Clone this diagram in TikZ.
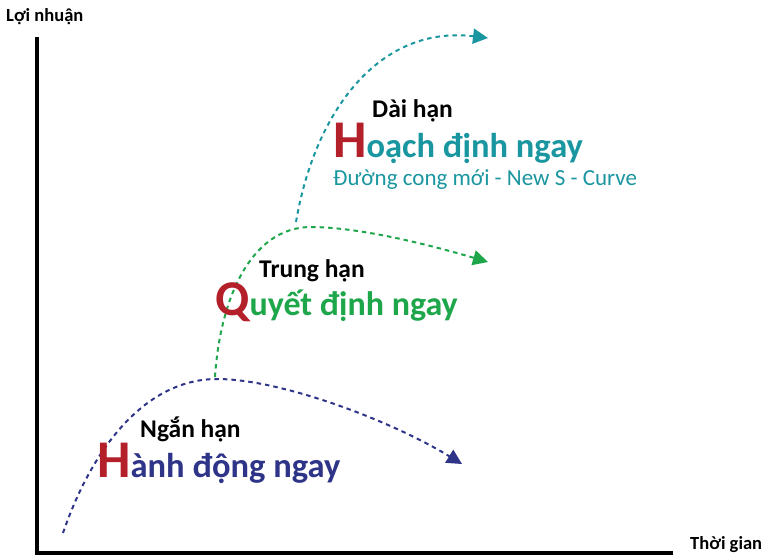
\documentclass[tikz,border=0pt]{standalone}
\usepackage{fontspec}
\setmainfont{Carlito}
\usetikzlibrary{arrows.meta}
\definecolor{capred}{HTML}{B3202A}
\definecolor{longteal}{HTML}{1A96A0}
\definecolor{midgreen}{HTML}{1EA64A}
\definecolor{shortnavy}{HTML}{2E3487}
\newcommand{\fs}[1]{\fontsize{#1}{#1}\selectfont}
\tikzset{
  axisline/.style={line width=4pt},
  trend/.style={line width=2pt, dash pattern=on 4.5pt off 4pt,
    -{Triangle[length=15pt,width=15pt]}},
  label/.style={anchor=base west, inner sep=0pt, font=\bfseries},
}
\begin{document}
\begin{tikzpicture}[x=1pt,y=-1pt]
\useasboundingbox (0,0) rectangle (764,555);

% axes
\coordinate (top) at (37,37);
\coordinate (origin) at (37,552.5);
\coordinate (right) at (673,552.5);
\draw[axisline] (top) -- (37,555);
\draw[axisline] (35,552.5) -- (right);
\node[label, font=\bfseries\fs{18.5}] (yl) at (6,21) {Lợi nhuận};
\node[label, font=\bfseries\fs{18.5}] (xl) at (690,549) {Thời gian};

% short-term curve
\coordinate (s0) at (63,533);
\coordinate (s1) at (217,379);
\coordinate (s2) at (462,464);
\draw[trend, shortnavy] (s0) .. controls (95,440) and (150,379) .. (s1)
  .. controls (280,379) and (390,420) .. (s2);

% mid-term curve
\coordinate (m0) at (215,377);
\coordinate (m1) at (310,227);
\coordinate (m2) at (488,262);
\draw[trend, midgreen] (m0) .. controls (220,300) and (250,228) .. (m1)
  .. controls (360,227) and (430,245) .. (m2);

% long-term curve
\coordinate (l0) at (296,222);
\coordinate (l1) at (488,38);
\draw[trend, longteal] (l0) .. controls (315,110) and (380,25) .. (l1);

% texts
\node[label, font=\bfseries\fs{25.5}] (dh) at (372,117) {Dài hạn};
\node[label, text=longteal] (hd) at (333,157)
  {{\color{capred}\fs{53}H}{\fs{34.5}oạch định ngay}};
\node[label, font=\fs{23}, text=longteal] (sc) at (333,185)
  {Đường cong mới - New S - Curve};

\node[label, font=\bfseries\fs{25.5}] (th) at (259,277) {Trung hạn};
\node[label, text=midgreen] (qd) at (215,315)
  {{\color{capred}\fs{50}Q}{\fs{34}uyết định ngay}};

\node[label, font=\bfseries\fs{25.5}] (nh) at (140,437) {Ngắn hạn};
\node[label, text=shortnavy] (hn) at (97,477)
  {{\color{capred}\fs{53}H}{\fs{34.5}ành động ngay}};
\end{tikzpicture}
\end{document}
